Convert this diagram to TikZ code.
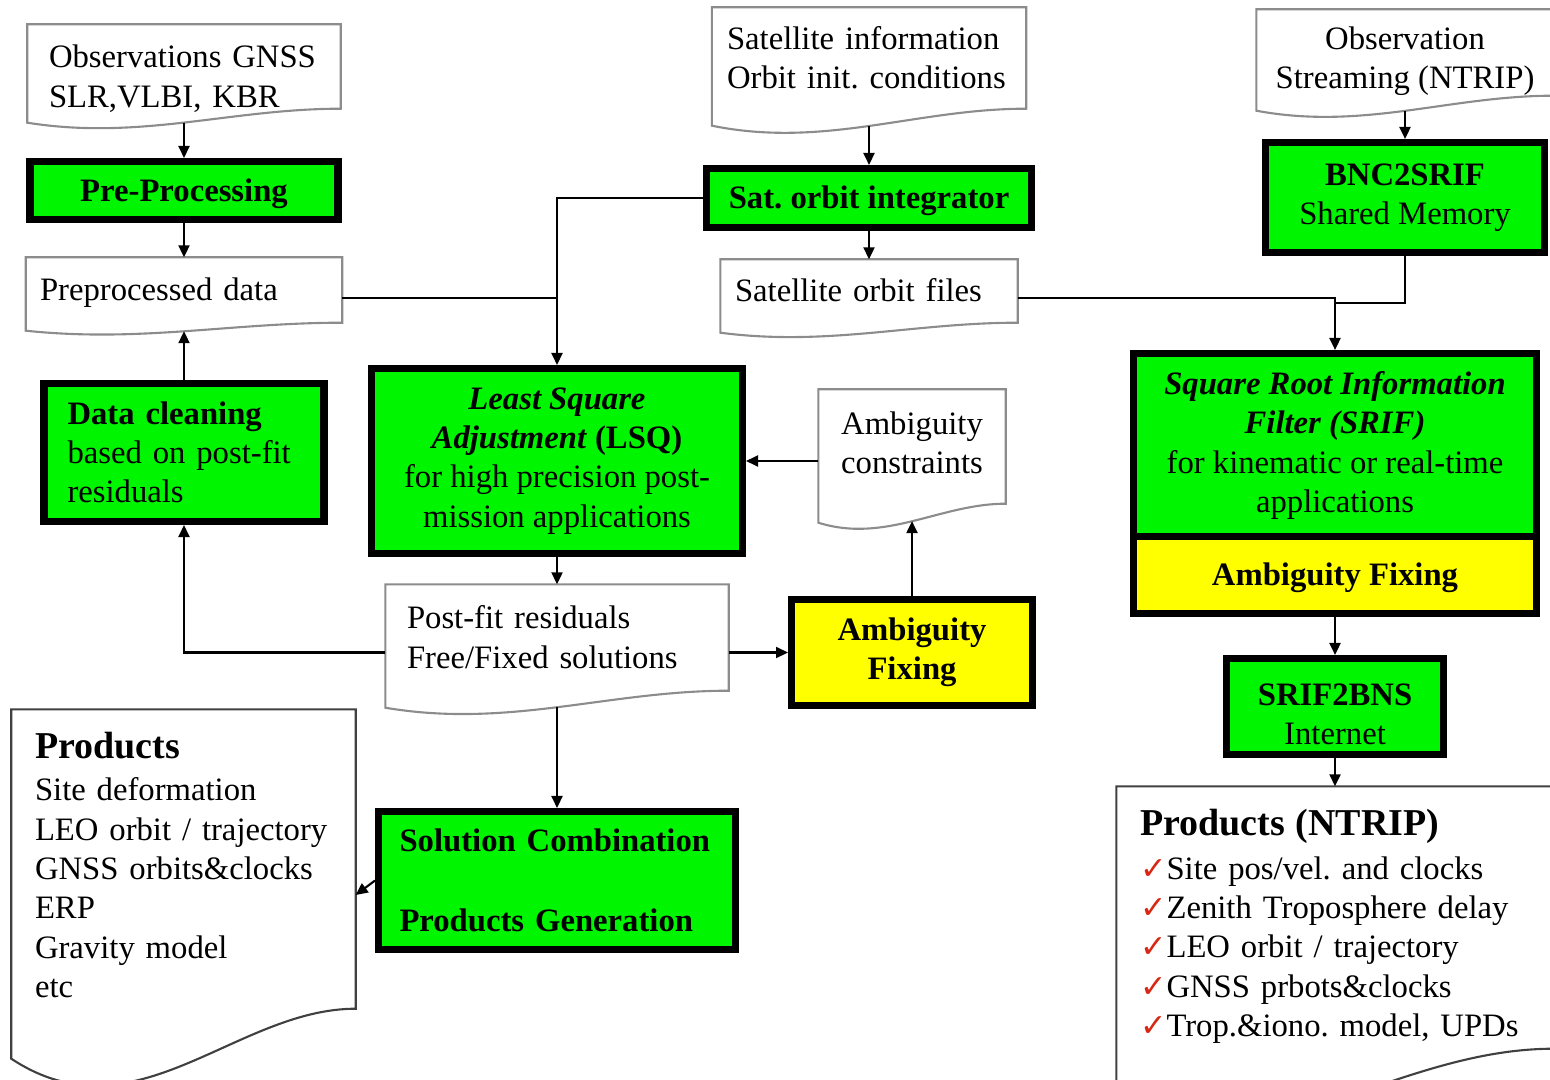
\documentclass[tikz,border=0pt]{standalone}
\usepackage{fontspec}
\setmainfont{Liberation Serif}
\newfontfamily\symfont{DejaVu Sans}
\usetikzlibrary{arrows.meta,calc}
\frenchspacing
\hyphenpenalty=10000

\definecolor{boxgreen}{RGB}{0,245,0}
\definecolor{boxyellow}{RGB}{255,255,0}
\definecolor{docgray}{RGB}{140,140,140}
\definecolor{tickred}{RGB}{215,40,20}

\newcommand{\wordstrut}{\rule[-0.22em]{0pt}{1.11em}}

\tikzset{
    boxtext/.style={execute at begin node=\wordstrut, execute at end node=\wordstrut},
    greenbox/.style={boxtext, draw=black, line width=2pt, fill=boxgreen, inner sep=0pt, align=center},
    yellowbox/.style={greenbox, fill=boxyellow},
    doc/.style={boxtext, inner ysep=0pt, align=left},
    docline/.style={draw=docgray, line width=0.6pt},
    proline/.style={draw=black!75, line width=0.6pt},
    line/.style={line width=0.6pt},
    arrow/.style={line, -{Triangle[length=1.2mm,width=1.1mm]}},
}

% wavy bottom of a data file: node, right rise, left rise, dip of the wave
\newcommand{\docwave}[5][docline]{%
    \draw[#1] (#2.north west) -- (#2.north east) -- ([yshift=#3]#2.south east)
        .. controls ($([yshift=#3]#2.south east)!0.35!([yshift=#3]#2.south west)$)
        and ($([yshift=#5]#2.south west)!0.36!([yshift=#5]#2.south east)$)
        .. ([yshift=#4]#2.south west) -- cycle;}

\newcommand{\redtick}{{\color{tickred}\symfont\fontsize{9}{9}\selectfont ✓}}

\begin{document}
\begin{tikzpicture}[x=0.1mm, y=-0.1mm, font=\fontsize{9.3}{11.2}\selectfont]
    \useasboundingbox (0,0) rectangle (1550,1079);
    \clip (0,0) rectangle (1550,1079);

    % Ficheros de entrada
    \node[doc, minimum width=31.2mm, minimum height=10.3mm, inner xsep=2.1mm, text width=27mm]
        (obs) at (184,76.5) {Observations GNSS\\SLR,VLBI, KBR};
    \node[doc, minimum width=31.3mm, minimum height=10mm, inner xsep=1.45mm, text width=28.4mm]
        (satinfo) at (869,58) {Satellite information\\Orbit init. conditions};
    \node[doc, align=center, minimum width=29.6mm, minimum height=10.2mm]
        (obsstream) at (1405,61) {Observation\\Streaming (NTRIP)};
    \node[doc, minimum width=31.5mm, minimum height=6.4mm, inner xsep=1.35mm, text width=28.8mm]
        (prepdata) at (184,290) {Preprocessed data};
    \node[doc, minimum width=29.6mm, minimum height=6.2mm, inner xsep=1.4mm, text width=26.8mm]
        (satfiles) at (869,291) {Satellite orbit files};
    \node[doc, align=center, minimum width=18.6mm, minimum height=11.3mm]
        (ambcon) at (912,446.5) {Ambiguity\\constraints};
    \node[doc, minimum width=34.2mm, minimum height=10.5mm, inner xsep=2.1mm, text width=30mm]
        (postfit) at (557,637.5) {Post-fit residuals\\Free/Fixed solutions};

    % Productos
    \node[doc, minimum width=34.3mm, minimum height=29.8mm, inner xsep=2.3mm, text width=29.7mm]
        (products) at (183.5,859) {\rule{0pt}{12.9pt}{\fontsize{10.8}{12}\selectfont\bfseries Products}\\[0.3mm]
        Site deformation\\LEO orbit / trajectory\\GNSS orbits\&clocks\\ERP\\Gravity model\\etc};
    \node[doc, minimum width=43.6mm, minimum height=26.1mm, inner xsep=2.3mm, text width=39mm]
        (ntrip) at (1335,917.5) {\rule{0pt}{12.6pt}{\fontsize{10.8}{12}\selectfont\bfseries Products (NTRIP)}\\[0.4mm]
        \redtick Site pos/vel. and clocks\\\redtick Zenith Troposphere delay\\
        \redtick LEO orbit / trajectory\\\redtick GNSS prbots\&clocks\\
        \redtick Trop.\&iono. model, UPDs};

    \docwave{obs}{2mm}{0.6mm}{-1.2mm}
    \docwave{satinfo}{0mm}{-1.7mm}{-4mm}
    \docwave{obsstream}{1.7mm}{0.2mm}{-1.8mm}
    \docwave{prepdata}{0mm}{-0.8mm}{-2mm}
    \docwave{satfiles}{0mm}{-1mm}{-2.4mm}
    \docwave{ambcon}{0mm}{-1.9mm}{-4mm}
    \docwave{postfit}{0mm}{-1.7mm}{-3.8mm}
    \docwave[proline]{products}{0mm}{-5mm}{-13.2mm}
    \docwave[proline]{ntrip}{0mm}{-8mm}{-11mm}

    % Procesos
    \node[greenbox, minimum width=30.8mm, minimum height=5.8mm] (preproc) at (184,190.5)
        {\textbf{Pre-Processing}};
    \node[greenbox, minimum width=32.5mm, minimum height=5.9mm] (satint) at (869,198)
        {\textbf{Sat. orbit integrator}};
    \node[greenbox, minimum width=27.9mm, minimum height=11mm] (bnc) at (1405,197.5)
        {\textbf{BNC2SRIF}\\Shared Memory};
    \node[greenbox, align=left, minimum width=28mm, minimum height=13.8mm, inner xsep=2.35mm, text width=23.3mm]
        (datacl) at (184,452.5) {\textbf{Data cleaning}\\based on post-fit\\residuals};
    \node[greenbox, minimum width=37.1mm, minimum height=18.5mm] (lsq) at (557,461)
        {\textbf{\textit{Least Square}}\\\textbf{\textit{Adjustment} (LSQ)}\\for high precision post-\\mission applications};
    \node[greenbox, minimum width=40.3mm, minimum height=18.45mm] (srif) at (1335,445.75)
        {\textbf{\textit{Square Root Information}}\\\textbf{\textit{Filter (SRIF)}}\\for kinematic or real-time\\applications};
    \node[yellowbox, minimum width=40.3mm, minimum height=7.65mm] (srifamb) at (1335,575)
        {\textbf{Ambiguity Fixing}};
    \node[yellowbox, minimum width=24.1mm, minimum height=10.6mm] (ambfix) at (912,652.5)
        {\textbf{Ambiguity}\\\textbf{Fixing}};
    \node[greenbox, minimum width=21.7mm, minimum height=9.6mm] (srif2bns) at (1335,706.5)
        {\rule{0pt}{12.4pt}\textbf{SRIF2BNS}\\Internet};
    \node[greenbox, align=left, minimum width=35.7mm, minimum height=13.8mm, inner xsep=2.1mm, text width=31.5mm]
        (solcomb) at (557,880.5) {\textbf{Solution Combination}\\[4mm]\textbf{Products Generation}};

    % Conexiones
    \draw[arrow] ([yshift=0.6mm]obs.south) -- (preproc.north);
    \draw[arrow] (preproc.south) -- (prepdata.north);
    \draw[arrow] (datacl.north) -- ([yshift=-0.85mm]prepdata.south);
    \coordinate (pd) at ([yshift=-0.8mm]prepdata.east);
    \draw[line] (pd) -- (pd -| lsq.north);
    \draw[arrow] (satint.west) -| (lsq.north);
    \draw[arrow] ([yshift=-1.7mm]satinfo.south) -- (satint.north);
    \draw[arrow] (satint.south) -- (satfiles.north);
    \coordinate (sf) at ([yshift=-0.7mm]satfiles.east);
    \draw[arrow] (sf) -| (srif.north);
    \draw[line] (bnc.south) |- ($(sf -| srif.north)+(0,5)$);
    \draw[arrow] ([yshift=0.2mm]obsstream.south) -- (bnc.north);
    \draw[arrow] (ambcon.west |- lsq.east) -- (lsq.east);
    \draw[arrow] (lsq.south) -- (postfit.north);
    \draw[arrow] (postfit.west |- ambfix.west) -| (datacl.south);
    \draw[arrow] (postfit.east |- ambfix.west) -- (ambfix.west);
    \draw[arrow] (ambfix.north) -- ([yshift=-1.74mm]ambcon.south);
    \draw[arrow] ([yshift=-1.64mm]postfit.south) -- (solcomb.north);
    \draw[arrow] (solcomb.west) -- ([yshift=-3.6mm]products.east);
    \draw[arrow] (srifamb.south) -- (srif2bns.north);
    \draw[arrow] (srif2bns.south) -- (ntrip.north);
\end{tikzpicture}
\end{document}
